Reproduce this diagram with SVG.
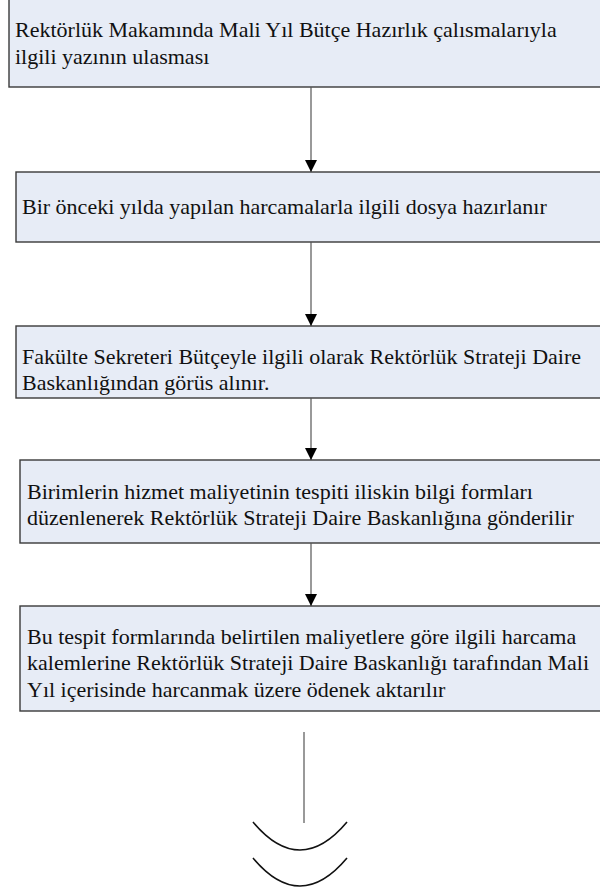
<svg xmlns="http://www.w3.org/2000/svg" width="600" height="895" viewBox="0 0 600 895">
<defs>
<style>
.box{fill:#E7ECF6;stroke:#3a3a3a;stroke-width:1.4}
.t{font-size:22px;fill:#111}
.c{stroke:#555;stroke-width:1.2;fill:none}
.arc{stroke:#111;stroke-width:1.6;fill:none}
</style>
<marker id="ah" markerWidth="12" markerHeight="12" refX="12" refY="6" orient="auto" markerUnits="userSpaceOnUse">
<path d="M0,0 L12,6 L0,12 Z" fill="#000"/>
</marker>
</defs>
<g id="n1">
<rect class="box" x="9" y="-5" width="600" height="92"/>
<text class="t" x="15" y="37" font-family="'Liberation Serif', 'Times New Roman', serif">Rektörlük Makamında Mali Yıl Bütçe Hazırlık çalısmalarıyla</text>
<text class="t" x="15" y="64" font-family="'Liberation Serif', 'Times New Roman', serif">ilgili yazının ulasması</text>
</g>
<g id="n2">
<rect class="box" x="16" y="172" width="600" height="70"/>
<text class="t" x="22" y="214" font-family="'Liberation Serif', 'Times New Roman', serif">Bir önceki yılda yapılan harcamalarla ilgili dosya hazırlanır</text>
</g>
<g id="n3">
<rect class="box" x="16" y="326" width="600" height="72"/>
<text class="t" x="22" y="364" font-family="'Liberation Serif', 'Times New Roman', serif">Fakülte Sekreteri Bütçeyle ilgili olarak Rektörlük Strateji Daire</text>
<text class="t" x="22" y="390" font-family="'Liberation Serif', 'Times New Roman', serif">Baskanlığından görüs alınır.</text>
</g>
<g id="n4">
<rect class="box" x="20" y="460" width="600" height="83"/>
<text class="t" x="27" y="499" font-family="'Liberation Serif', 'Times New Roman', serif">Birimlerin hizmet maliyetinin tespiti iliskin bilgi formları</text>
<text class="t" x="27" y="525" font-family="'Liberation Serif', 'Times New Roman', serif">düzenlenerek Rektörlük Strateji Daire Baskanlığına gönderilir</text>
</g>
<g id="n5">
<rect class="box" x="20" y="606" width="600" height="105"/>
<text class="t" x="27" y="644" font-family="'Liberation Serif', 'Times New Roman', serif">Bu tespit formlarında belirtilen maliyetlere göre ilgili harcama</text>
<text class="t" x="27" y="670" font-family="'Liberation Serif', 'Times New Roman', serif">kalemlerine Rektörlük Strateji Daire Baskanlığı tarafından Mali</text>
<text class="t" x="27" y="697" font-family="'Liberation Serif', 'Times New Roman', serif">Yıl içerisinde harcanmak üzere ödenek aktarılır</text>
</g>
<g id="connectors">
<line class="c" x1="311" y1="87" x2="311" y2="172" marker-end="url(#ah)"/>
<line class="c" x1="311" y1="242" x2="311" y2="326" marker-end="url(#ah)"/>
<line class="c" x1="311" y1="398" x2="311" y2="460" marker-end="url(#ah)"/>
<line class="c" x1="311" y1="543" x2="311" y2="606" marker-end="url(#ah)"/>
<line class="c" x1="304" y1="732" x2="304" y2="823"/>
<path class="arc" d="M253,822 Q300,878 347,822"/>
<path class="arc" d="M253,858 Q300,914 347,858"/>
</g>
</svg>
